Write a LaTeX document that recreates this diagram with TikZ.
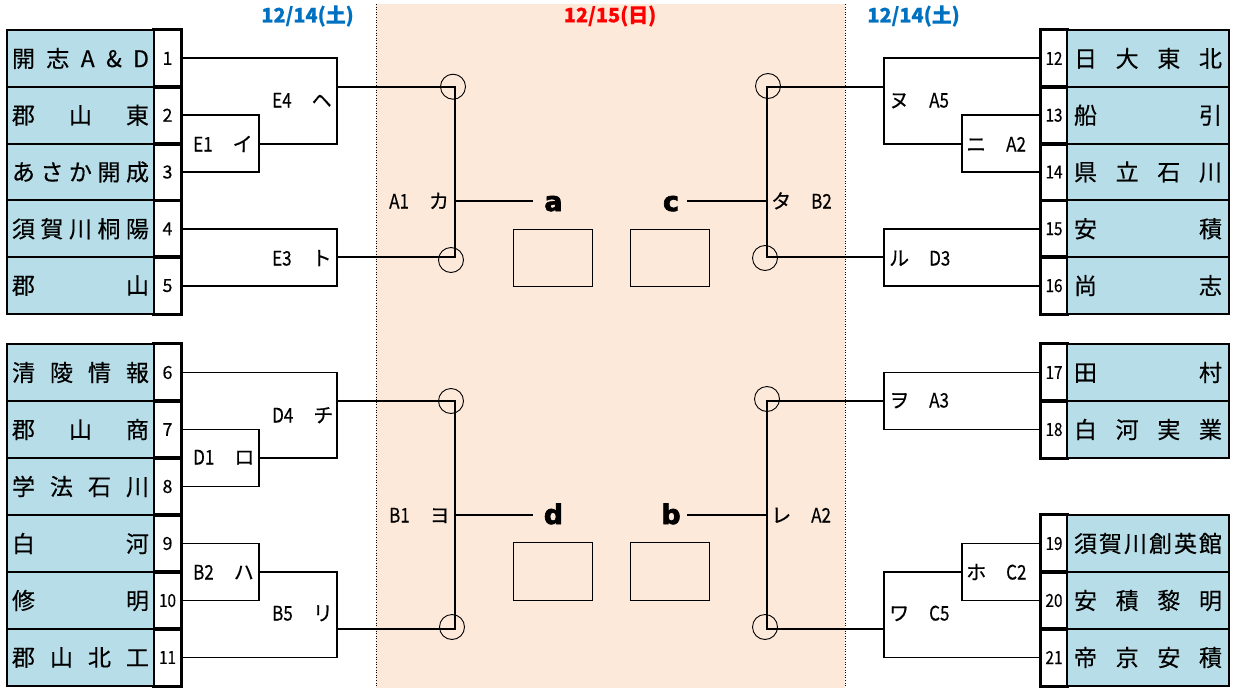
\documentclass[tikz,border=0pt]{standalone}
\usepackage{fontspec}
\setmainfont{Noto Sans CJK JP}[FakeBold=0.4]
\newfontfamily\heavy{DejaVu Sans}[BoldFeatures={FakeBold=2.5}]
\definecolor{teamblue}{HTML}{B7DEE8}
\definecolor{peach}{HTML}{FDE9D9}
\definecolor{satblue}{HTML}{0070C0}
\definecolor{sunred}{HTML}{FF0000}
\newcommand{\lname}[1]{\makebox[137pt]{#1}}
\newcommand{\rname}[1]{\makebox[148pt]{#1}}
\newcommand{\narrow}[1]{\scalebox{0.85}[1]{#1}}
\begin{document}
\begin{tikzpicture}[x=1pt,y=-1pt,
  br/.style={line width=1.9pt, line cap=rect},
  namel/.style={draw, line width=1.9pt, fill=teamblue, minimum width=147pt, minimum height=56.8pt, inner sep=0pt, font=\fontsize{23pt}{23pt}\selectfont},
  namer/.style={draw, line width=1.9pt, fill=teamblue, minimum width=162pt, minimum height=56.8pt, inner sep=0pt, font=\fontsize{23pt}{23pt}\selectfont},
  numl/.style={draw, line width=1.9pt, fill=white, minimum width=27pt, minimum height=56.8pt, inner sep=0pt, font=\fontsize{18pt}{18pt}\selectfont},
  numr/.style={draw, line width=1.9pt, fill=white, minimum width=26pt, minimum height=56.8pt, inner sep=0pt, font=\fontsize{18pt}{18pt}\selectfont},
  lab/.style={anchor=base west, inner sep=0pt, font=\fontsize{20pt}{20pt}\selectfont},
  datelab/.style={inner sep=0pt, font=\fontsize{20pt}{20pt}\selectfont\bfseries},
  big/.style={anchor=base, inner sep=0pt, font=\fontsize{27pt}{27pt}\selectfont\heavy\bfseries},
  circ/.style={circle, draw, line width=0.9pt, minimum size=25pt, inner sep=0pt},
  smallbox/.style={draw, line width=0.9pt, minimum width=79pt, minimum height=57.5pt, inner sep=0pt},
  dots/.style={line width=1pt, dash pattern=on 1pt off 1.6pt}
]
\useasboundingbox (0,0) rectangle (1235,688);
% day-2 background
\fill[peach] (376,4) rectangle (845,688);
\draw[dots] (376,4) -- (376,688);
\draw[dots] (845,4) -- (845,688);

% dates
\node[datelab, text=satblue] (dL) at (307.5,16) {12/14(土)};
\node[datelab, text=sunred] (dC) at (610,16) {12/15(日)};
\node[datelab, text=satblue] (dR) at (913.5,16) {12/14(土)};

% coordinates
\coordinate (e1) at (259,143.6);
\coordinate (e4) at (337,86.8);
\coordinate (e3) at (337,257.2);
\coordinate (L1t) at (455,86.8);
\coordinate (L1b) at (455,257.2);
\coordinate (aj) at (532,201);
\coordinate (d1) at (259,458);
\coordinate (d4) at (337,401);
\coordinate (b2) at (259,572);
\coordinate (b5) at (337,629);
\coordinate (L2t) at (455,401);
\coordinate (L2b) at (455,629);
\coordinate (dj) at (532,515);
\coordinate (a2) at (962,143.6);
\coordinate (a5) at (884,86.8);
\coordinate (d3) at (884,257.2);
\coordinate (R1t) at (767,86.8);
\coordinate (R1b) at (767,257.2);
\coordinate (cj) at (688,201);
\coordinate (a3) at (884,401);
\coordinate (c2) at (962,572);
\coordinate (c5) at (884,629);
\coordinate (R2t) at (767,401);
\coordinate (R2b) at (767,629);
\coordinate (bj) at (688,515);

% number boxes
\node[numl] (n1) at (167.5,58.4) {1};
\node[numl] (n2) at (167.5,115.2) {2};
\node[numl] (n3) at (167.5,172.0) {3};
\node[numl] (n4) at (167.5,228.8) {4};
\node[numl] (n5) at (167.5,285.6) {5};
\node[numl] (n6) at (167.5,372.5) {6};
\node[numl] (n7) at (167.5,429.5) {7};
\node[numl] (n8) at (167.5,486.5) {8};
\node[numl] (n9) at (167.5,543.5) {9};
\node[numl] (n10) at (167.5,600.5) {\narrow{10}};
\node[numl] (n11) at (167.5,657.5) {\narrow{11}};
\node[numr] (n12) at (1054,58.4) {\narrow{12}};
\node[numr] (n13) at (1054,115.2) {\narrow{13}};
\node[numr] (n14) at (1054,172.0) {\narrow{14}};
\node[numr] (n15) at (1054,228.8) {\narrow{15}};
\node[numr] (n16) at (1054,285.6) {\narrow{16}};
\node[numr] (n17) at (1054,372.5) {\narrow{17}};
\node[numr] (n18) at (1054,429.5) {\narrow{18}};
\node[numr] (n19) at (1054,543.5) {\narrow{19}};
\node[numr] (n20) at (1054,600.5) {\narrow{20}};
\node[numr] (n21) at (1054,657.5) {\narrow{21}};

% brackets left
\draw[br] (n2.east) -| (e1) |- (n3.east);
\draw[br] (n1.east) -| (e4) |- (e1);
\draw[br] (n4.east) -| (e3) |- (n5.east);
\draw[br] (e4) -- (L1t) -- (L1b) -- (e3);
\draw[br] (L1t |- aj) -- (aj);
\draw[br] (n7.east) -| (d1) |- (n8.east);
\draw[br] (n6.east) -| (d4) |- (d1);
\draw[br] (n9.east) -| (b2) |- (n10.east);
\draw[br] (b2) -| (b5) |- (n11.east);
\draw[br] (d4) -- (L2t) -- (L2b) -- (b5);
\draw[br] (L2t |- dj) -- (dj);
% brackets right
\draw[br] (n13.west) -| (a2) |- (n14.west);
\draw[br] (n12.west) -| (a5) |- (a2);
\draw[br] (n15.west) -| (d3) |- (n16.west);
\draw[br] (a5) -- (R1t) -- (R1b) -- (d3);
\draw[br] (R1t |- cj) -- (cj);
\draw[br] (n17.west) -| (a3) |- (n18.west);
\draw[br] (n19.west) -| (c2) |- (n20.west);
\draw[br] (c2) -| (c5) |- (n21.west);
\draw[br] (a3) -- (R2t) -- (R2b) -- (c5);
\draw[br] (R2t |- bj) -- (bj);

% redraw number box borders over line ends
\foreach \n in {n1,n2,n3,n4,n5,n6,n7,n8,n9,n10,n11,n12,n13,n14,n15,n16,n17,n18,n19,n20,n21}
  \draw[line width=1.9pt] (\n.north west) rectangle (\n.south east);

% team names left
\node[namel] (t1) at (80.5,58.4) {\lname{開\hfill 志\hfill A\hfill \&\hfill D}};
\node[namel] (t2) at (80.5,115.2) {\lname{郡\hfill 山\hfill 東}};
\node[namel] (t3) at (80.5,172.0) {\lname{あ\hfill さ\hfill か\hfill 開\hfill 成}};
\node[namel] (t4) at (80.5,228.8) {\lname{須\hfill 賀\hfill 川\hfill 桐\hfill 陽}};
\node[namel] (t5) at (80.5,285.6) {\lname{郡\hfill 山}};
\node[namel] (t6) at (80.5,372.5) {\lname{清\hfill 陵\hfill 情\hfill 報}};
\node[namel] (t7) at (80.5,429.5) {\lname{郡\hfill 山\hfill 商}};
\node[namel] (t8) at (80.5,486.5) {\lname{学\hfill 法\hfill 石\hfill 川}};
\node[namel] (t9) at (80.5,543.5) {\lname{白\hfill 河}};
\node[namel] (t10) at (80.5,600.5) {\lname{修\hfill 明}};
\node[namel] (t11) at (80.5,657.5) {\lname{郡\hfill 山\hfill 北\hfill 工}};
% team names right
\node[namer] (t12) at (1148,58.4) {\rname{日\hfill 大\hfill 東\hfill 北}};
\node[namer] (t13) at (1148,115.2) {\rname{船\hfill 引}};
\node[namer] (t14) at (1148,172.0) {\rname{県\hfill 立\hfill 石\hfill 川}};
\node[namer] (t15) at (1148,228.8) {\rname{安\hfill 積}};
\node[namer] (t16) at (1148,285.6) {\rname{尚\hfill 志}};
\node[namer] (t17) at (1148,372.5) {\rname{田\hfill 村}};
\node[namer] (t18) at (1148,429.5) {\rname{白\hfill 河\hfill 実\hfill 業}};
\node[namer] (t19) at (1148,543.5) {\rname{須\hfill 賀\hfill 川\hfill 創\hfill 英\hfill 館}};
\node[namer] (t20) at (1148,600.5) {\rname{安\hfill 積\hfill 黎\hfill 明}};
\node[namer] (t21) at (1148,657.5) {\rname{帝\hfill 京\hfill 安\hfill 積}};

% match labels
\node[lab] (mE4) at (272,107.5) {\narrow{E4}\quad ヘ};
\node[lab] (mE1) at (193,151.5) {\narrow{E1}\quad イ};
\node[lab] (mE3) at (272,265.5) {\narrow{E3}\quad ト};
\node[lab] (mD4) at (272,422.5) {\narrow{D4}\quad チ};
\node[lab] (mD1) at (193,464.5) {\narrow{D1}\quad ロ};
\node[lab] (mB2) at (193,579.5) {\narrow{B2}\quad ハ};
\node[lab] (mB5) at (272,620.5) {\narrow{B5}\quad リ};
\node[lab] (mA1) at (389,208.5) {\narrow{A1}\quad カ};
\node[lab] (mB1) at (389,522.5) {\narrow{B1}\quad ヨ};
\node[lab] (mB2r) at (771,208.5) {タ\quad \narrow{B2}};
\node[lab] (mA2r) at (771,522.5) {レ\quad \narrow{A2}};
\node[lab] (mA5) at (889,107.5) {ヌ\quad \narrow{A5}};
\node[lab] (mA2) at (966,151.5) {ニ\quad \narrow{A2}};
\node[lab] (mD3) at (889,265.5) {ル\quad \narrow{D3}};
\node[lab] (mA3) at (889,407.5) {ヲ\quad \narrow{A3}};
\node[lab] (mC2) at (966,579.5) {ホ\quad \narrow{C2}};
\node[lab] (mC5) at (889,620.5) {ワ\quad \narrow{C5}};

% circles
\node[circ] (oL1t) at (453,86.7) {};
\node[circ] (oL1b) at (451,260) {};
\node[circ] (oL2t) at (451,401) {};
\node[circ] (oL2b) at (452,627) {};
\node[circ] (oR1t) at (768,86) {};
\node[circ] (oR1b) at (765,258) {};
\node[circ] (oR2t) at (767,399) {};
\node[circ] (oR2b) at (765,627) {};

% final letters and boxes
\node[big] (la) at (553.5,211) {a};
\node[big] (lc) at (671,211) {c};
\node[big] (ld) at (553.5,524) {d};
\node[big] (lb) at (671,524) {b};
\node[smallbox] (boxa) at (552.5,258) {};
\node[smallbox] (boxc) at (669.5,258) {};
\node[smallbox] (boxd) at (552.5,571.5) {};
\node[smallbox] (boxb) at (669.5,571.5) {};
\end{tikzpicture}
\end{document}
